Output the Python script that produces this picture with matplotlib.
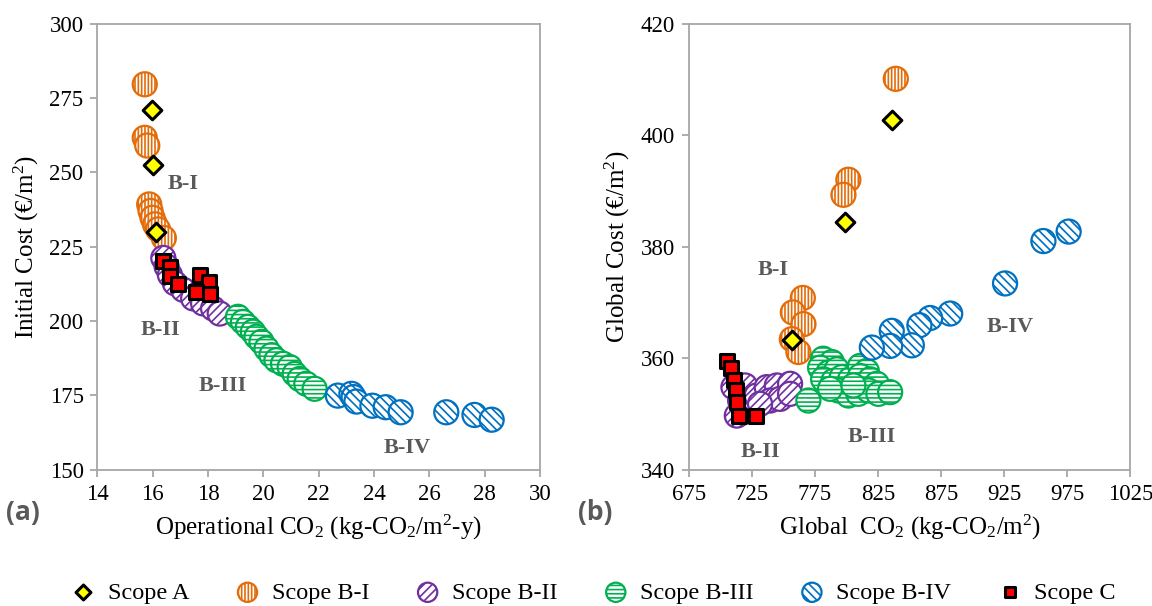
import matplotlib.pyplot as plt

plt.rcParams['font.family'] = ['Liberation Serif', 'DejaVu Serif']
plt.rcParams['mathtext.fontset'] = 'custom'
plt.rcParams['mathtext.rm'] = 'Liberation Serif'
plt.rcParams['mathtext.it'] = 'Liberation Serif:italic'
plt.rcParams['mathtext.bf'] = 'Liberation Serif:bold'
plt.rcParams['hatch.linewidth'] = 1.2

# ── (a) operational CO2 vs initial cost ─────────────────────────
a_A_x = [15.96, 16.00, 16.11]
a_A_y = [271.1, 252.4, 229.8]
a_BI_x = [15.71, 15.71, 15.80, 15.87, 15.92, 15.99, 16.08, 16.19, 16.40]
a_BI_y = [279.6, 261.6, 259.0, 239.2, 237.0, 234.7, 232.5, 230.8, 227.9]
a_BII_x = [16.38, 16.50, 16.62, 16.80, 17.10, 17.46, 17.82, 18.18, 18.42]
a_BII_y = [221.2, 218.3, 215.5, 212.7, 210.5, 207.6, 205.9, 204.2, 202.5]
a_BIII_x = [19.08, 19.26, 19.44, 19.62, 19.75, 19.93, 20.11, 20.29, 20.47,
            20.71, 20.95, 21.13, 21.31, 21.55, 21.85]
a_BIII_y = [201.4, 199.7, 198.0, 196.4, 194.7, 193.0, 190.7, 188.5, 186.8,
            185.6, 184.5, 182.2, 180.5, 178.9, 177.2]
a_BIV_x = [22.69, 23.18, 23.26, 23.36, 23.94, 24.42, 24.96, 26.61, 27.63, 28.25]
a_BIV_y = [174.9, 175.5, 174.4, 172.9, 171.5, 171.0, 169.3, 169.3, 168.4, 166.8]
a_C_x = [16.38, 16.62, 16.64, 16.90, 17.70, 18.03, 17.56, 18.06]
a_C_y = [220.3, 218.3, 215.2, 212.4, 215.5, 213.0, 209.6, 209.1]

# ── (b) global CO2 vs global cost ───────────────────────────────
b_A_x = [835.8, 798.8, 756.6]
b_A_y = [402.8, 384.5, 363.3]
b_BI_x = [839.0, 801.4, 797.5, 765.3, 757.4, 765.8, 756.6, 761.8]
b_BI_y = [410.1, 392.0, 389.3, 370.8, 368.2, 366.1, 363.4, 361.1]
b_BII_x = [710.3, 719.5, 715.6, 723.5, 713.0, 728.8, 736.7, 744.7, 739.4,
           747.3, 755.2, 755.2, 731.4]
b_BII_y = [354.8, 355.1, 352.4, 350.6, 349.7, 353.3, 354.8, 355.1, 352.4,
           352.7, 355.4, 353.6, 351.8]
b_BIII_x = [781.4, 788.3, 779.0, 785.6, 792.2, 781.4, 789.5, 796.2, 802.8,
            810.7, 816.0, 810.7, 818.6, 823.9, 793.5, 801.4, 809.3, 817.3,
            825.2, 834.5, 769.7, 786.9, 805.4]
b_BIII_y = [359.9, 359.3, 358.3, 357.4, 358.0, 356.2, 355.9, 356.6, 356.2,
            358.6, 357.7, 356.8, 356.2, 355.4, 354.2, 353.3, 353.6, 354.2,
            353.6, 353.9, 352.4, 354.5, 355.1]
b_BIV_x = [976.0, 956.0, 925.6, 882.1, 866.2, 857.7, 851.7, 835.8, 834.5, 820.0]
b_BIV_y = [382.7, 381.0, 373.4, 368.0, 367.2, 365.9, 362.3, 364.9, 362.2, 361.9]
b_C_x = [705.0, 708.2, 710.8, 712.4, 713.4, 715.0, 728.0]
b_C_y = [359.5, 358.2, 356.1, 354.2, 352.1, 349.7, 349.6]

names = ['Scope A', 'Scope B-I', 'Scope B-II', 'Scope B-III', 'Scope B-IV', 'Scope C']
circle_styles = [('#E36C09', '|||||'), ('#7030A0', '////'),
                 ('#00B050', '----'), ('#0070C0', '\\\\\\\\')]
grey = '#A6A6A6'
label_grey = '#595959'


def draw_panel(ax, A, circles, C):
    for (x, y), (col, hatch), name in zip(circles, circle_styles, names[1:5]):
        ax.scatter(x, y, s=300, facecolors='white', edgecolors=col,
                   hatch=hatch, linewidths=1.6, label=name, zorder=2)
    ax.scatter(A[0], A[1], marker='D', s=90, c='#FFFF00', edgecolors='black',
               linewidths=2.2, label=names[0], zorder=4)
    ax.scatter(C[0], C[1], marker='s', s=95, c='#FF0000', edgecolors='black',
               linewidths=2.2, label=names[5], zorder=4)
    for sp in ax.spines.values():
        sp.set_color(grey)
        sp.set_linewidth(1.3)
    ax.tick_params(colors=grey, labelcolor='black', labelsize=16.5,
                   length=5, width=1.3, direction='out', pad=5)


fig = plt.figure(figsize=(11.52, 6.06), dpi=100)
ax1 = fig.add_axes([0.0846, 0.225, 0.3842, 0.736])
ax2 = fig.add_axes([0.598, 0.225, 0.3833, 0.736])

draw_panel(ax1, (a_A_x, a_A_y),
           [(a_BI_x, a_BI_y), (a_BII_x, a_BII_y), (a_BIII_x, a_BIII_y), (a_BIV_x, a_BIV_y)],
           (a_C_x, a_C_y))
ax1.set_xlim(14, 30)
ax1.set_ylim(150, 300)
ax1.set_xticks(range(14, 31, 2))
ax1.set_yticks(range(150, 301, 25))
ax1.set_xlabel('Operational CO$_2$ (kg-CO$_2$/m$^2$-y)', fontsize=18, labelpad=6)
ax1.set_ylabel('Initial Cost (€/m$^2$)', fontsize=18, labelpad=6)
for txt, x, y in [('B-I', 17.1, 246.2), ('B-II', 16.28, 196.9),
                  ('B-III', 18.54, 178.3), ('B-IV', 25.18, 157.4)]:
    ax1.text(x, y, txt, fontsize=16, fontweight='bold', color=label_grey,
             ha='center', va='center')

draw_panel(ax2, (b_A_x, b_A_y),
           [(b_BI_x, b_BI_y), (b_BII_x, b_BII_y), (b_BIII_x, b_BIII_y), (b_BIV_x, b_BIV_y)],
           (b_C_x, b_C_y))
ax2.set_xlim(675, 1025)
ax2.set_ylim(340, 420)
ax2.set_xticks(range(675, 1026, 50))
ax2.set_yticks(range(340, 421, 20))
ax2.set_xlabel('Global  CO$_2$ (kg-CO$_2$/m$^2$)', fontsize=18, labelpad=6)
ax2.set_ylabel('Global Cost (€/m$^2$)', fontsize=18, labelpad=6)
for txt, x, y in [('B-I', 742, 375.9), ('B-II', 731.5, 343.2),
                  ('B-III', 820.2, 345.9), ('B-IV', 929.6, 365.5)]:
    ax2.text(x, y, txt, fontsize=16, fontweight='bold', color=label_grey,
             ha='center', va='center')

fig.text(0.005, 0.155, '(a)', fontsize=19, fontweight='bold', color=label_grey,
         family='Open Sans', va='center')
fig.text(0.502, 0.155, '(b)', fontsize=19, fontweight='bold', color=label_grey,
         family='Open Sans', va='center')

handles, labels = ax1.get_legend_handles_labels()
order = [labels.index(n) for n in names]
fig.legend([handles[i] for i in order], names, loc='center', ncol=6,
           bbox_to_anchor=(0.515, 0.022), frameon=False, fontsize=17.5,
           handlelength=1.0, handletextpad=0.5, columnspacing=1.9,
           markerscale=0.8)

fig.savefig('out.png', dpi=100)
